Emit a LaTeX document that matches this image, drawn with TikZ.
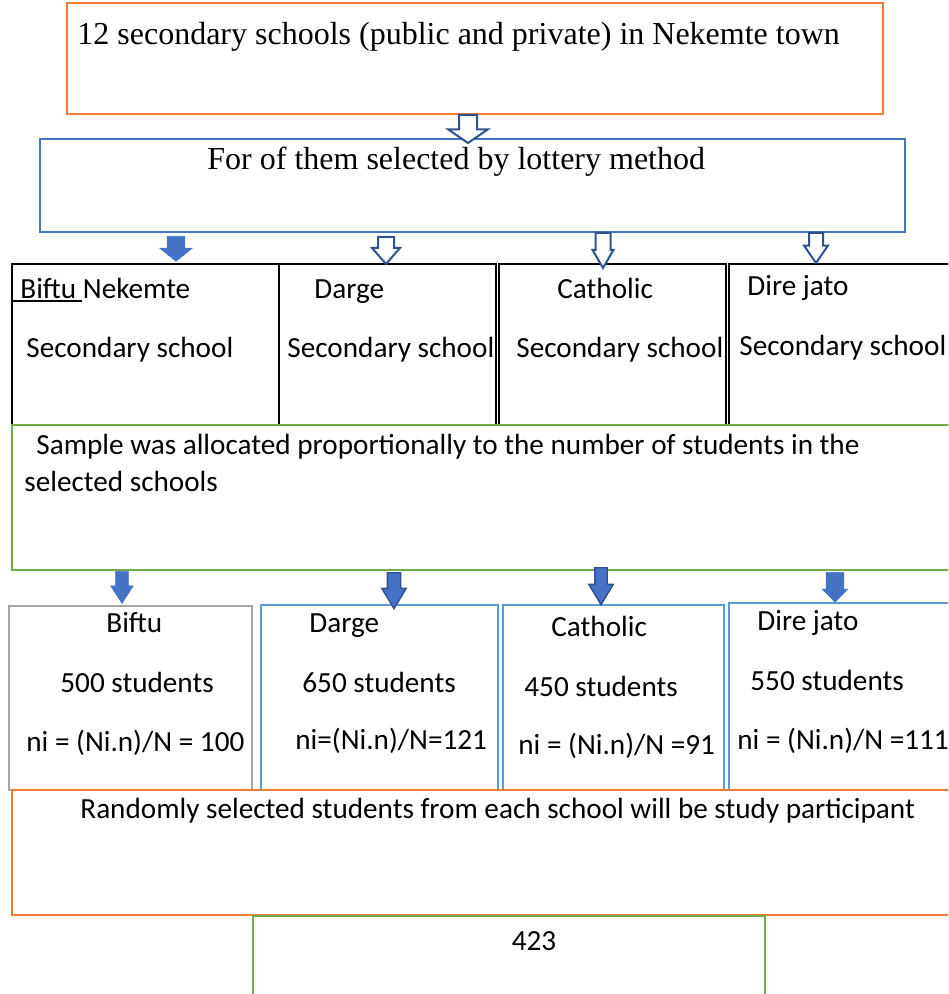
\documentclass[tikz,border=0pt]{standalone}
\usepackage{fontspec}
\setmainfont{Liberation Serif}
\newfontfamily\calibri{Carlito}
\usetikzlibrary{fit,shapes.arrows}
\definecolor{orangeline}{RGB}{237,125,49}
\definecolor{blueline}{RGB}{68,114,196}
\definecolor{greenline}{RGB}{112,173,71}
\definecolor{lightblue}{RGB}{91,155,213}
\definecolor{greyline}{RGB}{165,165,165}
\definecolor{darkblue}{RGB}{47,82,143}
\tikzset{arrowsize/.style n args={4}{minimum height=#1, single arrow head extend=#2,
                        inner ysep=#3, single arrow tip angle=#4}}

\begin{document}
\begin{tikzpicture}[x=0.5pt,y=-0.5pt]
\tikzstyle{frame}=[draw, line width=1pt, inner sep=0pt]
\tikzstyle{school}=[frame, draw=black, line width=1.4pt]
\tikzstyle{txt}=[inner sep=0pt, anchor=base west,
                        font=\calibri\fontsize{14.6}{17}\selectfont]
\tikzstyle{serif}=[inner sep=0pt, anchor=base west, font=\fontsize{16}{19}\selectfont]
\tikzstyle{solidarrow}=[single arrow, fill=blueline, draw=blueline, line width=0.3pt,
                        inner xsep=0pt, rotate=-90, anchor=tail]
\tikzstyle{openarrow}=[single arrow, fill=white, draw=darkblue, line width=1pt,
                        inner xsep=0pt, rotate=-90, anchor=tail]
\useasboundingbox (0,0) rectangle (948,994);
\clip (0,0) rectangle (948,994);
% boxes
	\node[frame, draw=orangeline, fit={(67,3) (883,114)}] (town) {};
	\node[frame, draw=blueline, fit={(40,139) (905,232)}] (lottery) {};
	\node[school, fit={(12,264) (279,425)}] (biftu) {};
	\node[school, fit={(279,264) (496,425)}] (darge) {};
	\node[school, fit={(499,264) (726,425)}] (catholic) {};
	\node[school, fit={(729,264) (962,425)}] (direjato) {};
	\node[frame, draw=greenline, fit={(12,425) (962,570)}] (alloc) {};
	\node[frame, draw=greyline, fit={(9,606) (252,790)}] (nbiftu) {};
	\node[frame, draw=lightblue, fit={(261,605) (498,790)}] (ndarge) {};
	\node[frame, draw=lightblue, fit={(503,605) (724,790)}] (ncatholic) {};
	\node[frame, draw=lightblue, fit={(729,603) (962,790)}] (ndire) {};
	\node[frame, draw=orangeline, fit={(12,790) (962,915)}] (random) {};
	\node[frame, draw=greenline, fit={(253,916) (765,1010)}] (total) {};
% arrows
	\node[openarrow, arrowsize={14pt}{5.5pt}{4pt}{111}] (a0) at (468,114) {};
	\node[solidarrow, arrowsize={12.5pt}{3.75pt}{4.25pt}{102}] (a1) at (176,236) {};
	\node[openarrow, arrowsize={13.5pt}{3pt}{3.5pt}{82}] (a2) at (386,236) {};
	\node[openarrow, arrowsize={17.5pt}{1.5pt}{3.25pt}{60}] (a3) at (603,232) {};
	\node[openarrow, arrowsize={15pt}{2.5pt}{3pt}{69}] (a4) at (816,232) {};
	\node[solidarrow, arrowsize={16pt}{2.5pt}{3pt}{66}] (b1) at (122,571) {};
	\node[solidarrow, draw=darkblue, line width=0.7pt,
	      arrowsize={18pt}{2.75pt}{3pt}{62}] (b2) at (394,572) {};
	\node[solidarrow, draw=darkblue, line width=0.7pt,
	      arrowsize={18.5pt}{3pt}{2.75pt}{62}] (b3) at (601,567) {};
	\node[solidarrow, arrowsize={15pt}{2pt}{4.25pt}{88}] (b4) at (835,572) {};
% texts
	\node[serif] (ttown) at (77,45) {12 secondary schools (public and private) in Nekemte town};
	\node[serif] (tlottery) at (207,170) {For of them selected by lottery method};
	\node[txt] (tbiftu) at (20,299) {Biftu Nekemte};
	\draw[line width=0.8pt] (12,301) -- (82,301);
	\node[txt] (tdarge) at (314,299) {Darge};
	\node[txt] (tcatholic) at (557,299) {Catholic};
	\node[txt] (tdire) at (747,296) {Dire jato};
	\node[txt] (sbiftu) at (26,357) {Secondary school};
	\node[txt] (sdarge) at (287,357) {Secondary school};
	\node[txt] (scatholic) at (516,357) {Secondary school};
	\node[txt] (sdire) at (739,355) {Secondary school};
	\node[txt] (talloc) at (36,454) {Sample was allocated proportionally to the number of students in the};
	\node[txt] (talloc2) at (24,491) {selected schools};
	\node[txt] (nb1) at (106,632) {Biftu};
	\node[txt] (nb2) at (60,692) {500 students};
	\node[txt] (nb3) at (26,751) {ni = (Ni.n)/N = 100};
	\node[txt] (nd1) at (309,632) {Darge};
	\node[txt] (nd2) at (302,692) {650 students};
	\node[txt] (nd3) at (295,749) {ni=(Ni.n)/N=121};
	\node[txt] (nc1) at (551,636) {Catholic};
	\node[txt] (nc2) at (524,696) {450 students};
	\node[txt] (nc3) at (518,754) {ni = (Ni.n)/N =91};
	\node[txt] (nj1) at (757,630) {Dire jato};
	\node[txt] (nj2) at (750,690) {550 students};
	\node[txt] (nj3) at (737,749) {ni = (Ni.n)/N =111};
	\node[txt] (trandom) at (80,818) {Randomly selected students from each school will be study participant};
	\node[txt, anchor=base] (ttotal) at (534,950) {423};
\end{tikzpicture}
\end{document}
